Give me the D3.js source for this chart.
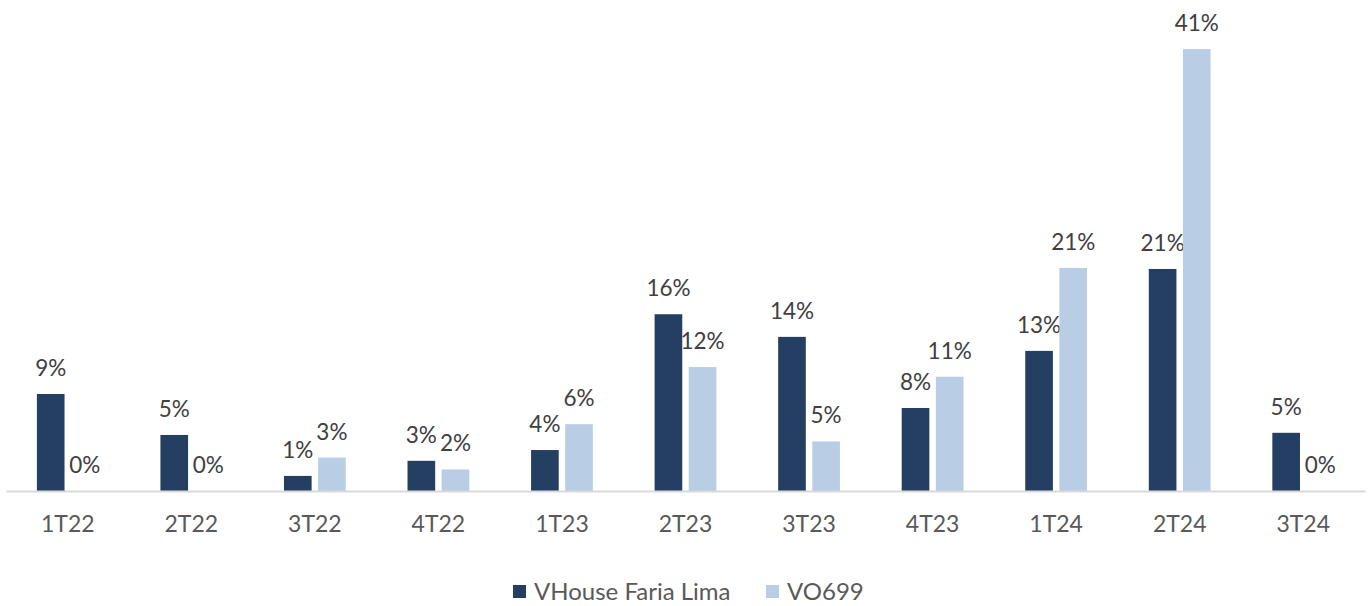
<!DOCTYPE html>
<html>
<head>
<meta charset="utf-8">
<script src="https://cdn.jsdelivr.net/npm/d3@7"></script>
<style>
  body { margin: 0; background: #fff; }
  text { font-family: Lato, "Open Sans", sans-serif; }
</style>
</head>
<body>
<div id="vis"></div>
<script>
var categories = ["1T22", "2T22", "3T22", "4T22", "1T23", "2T23", "3T23", "4T23", "1T24", "2T24", "3T24"];
var seriesNames = ["VHouse Faria Lima", "VO699"];
var vhouse = [0.090, 0.052, 0.014, 0.028, 0.038, 0.164, 0.143, 0.077, 0.130, 0.206, 0.054];
var vo699  = [0.000, 0.000, 0.031, 0.020, 0.062, 0.115, 0.046, 0.106, 0.207, 0.410, 0.000];
var colors = ["#243f61", "#b9cde5"];

var width = 1371, height = 606;
var plotLeft = 6, plotRight = 1365, plotTop = 6, plotBottom = 491;

var svg = d3.select("#vis")
    .append("svg")
    .attr("width", width)
    .attr("height", height);

var x0 = d3.scaleBand()
    .domain(categories)
    .range([plotLeft, plotRight])
    .paddingInner(0.5)
    .paddingOuter(0.25);

var x1 = d3.scaleBand()
    .domain(seriesNames)
    .range([0, x0.bandwidth()])
    .paddingInner(0.19);

var y = d3.scaleLinear()
    .domain([0, 0.45])
    .range([plotBottom, plotTop]);

var fmt = d3.format(".0%");

var rows = categories.map(function(c, i) {
  return { cat: c, vals: [vhouse[i], vo699[i]] };
});

////////// bars //////////

var groups = svg.append("g")
  .selectAll("g")
    .data(rows)
    .enter()
    .append("g")
    .attr("transform", function(d) { return "translate(" + x0(d.cat) + ",0)"; });

var bars = groups.selectAll("g.bar")
    .data(function(d) { return d.vals.map(function(v, j) { return { s: seriesNames[j], v: v, j: j }; }); })
    .enter()
    .append("g")
    .attr("class", "bar");

bars.append("rect")
    .attr("x", function(d) { return x1(d.s); })
    .attr("y", function(d) { return y(d.v); })
    .attr("width", x1.bandwidth())
    .attr("height", function(d) { return y(0) - y(d.v); })
    .style("fill", function(d) { return colors[d.j]; });

bars.append("text")
    .attr("x", function(d) { return x1(d.s) + x1.bandwidth() / 2; })
    .attr("y", function(d) { return y(d.v) - 18; })
    .attr("text-anchor", "middle")
    .attr("font-size", "22.5px")
    .style("fill", "#404040")
    .text(function(d) { return fmt(d.v); });

////////// axis //////////

var xAxis = svg.append("g")
    .attr("transform", "translate(0," + plotBottom + ")")
    .call(d3.axisBottom(x0).tickSize(0).tickPadding(25));

xAxis.select(".domain")
    .attr("stroke", "#d9d9d9")
    .attr("stroke-width", 2);

xAxis.selectAll("text")
    .attr("font-size", "23px")
    .style("font-family", "Lato, 'Open Sans', sans-serif")
    .attr("fill", "#595959");

////////// legend //////////

var legendX = [513, 766];
var legend = svg.append("g")
  .selectAll("g")
    .data(seriesNames)
    .enter()
    .append("g")
    .attr("transform", function(d, i) { return "translate(" + legendX[i] + ",585)"; });

legend.append("rect")
    .attr("width", 13)
    .attr("height", 13)
    .style("fill", function(d, i) { return colors[i]; });

legend.append("text")
    .attr("x", 21)
    .attr("y", 15)
    .attr("font-size", "24px")
    .style("fill", "#595959")
    .text(function(d) { return d; });
</script>
</body>
</html>
